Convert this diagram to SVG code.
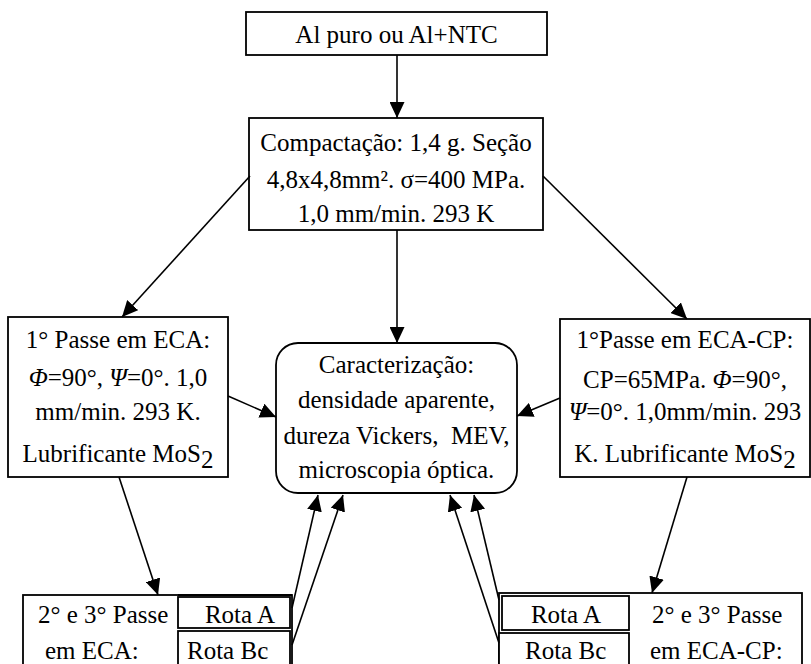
<svg xmlns="http://www.w3.org/2000/svg" width="811" height="664" viewBox="0 0 811 664">
<defs>
<style>
.box{fill:#fff;stroke:#000;stroke-width:1.8}
.t{font-family:"Liberation Serif","Times New Roman",serif;font-size:25px;fill:#000}
.m{text-anchor:middle}
.c line{stroke:#000;stroke-width:1.6;marker-end:url(#ah)}
</style>
<marker id="ah" markerUnits="userSpaceOnUse" markerWidth="16" markerHeight="15" refX="16" refY="7.5" orient="auto" viewBox="0 0 16 15">
<path d="M0,0 L16,7.5 L0,15 z" fill="#000"/>
</marker>
</defs>
<rect width="811" height="664" fill="#fff"/>
<g id="n-start">
<rect class="box" x="246" y="12" width="301" height="43"/>
<text class="t m" x="396.5" y="43">Al puro ou Al+NTC</text>
</g>
<g id="n-compact">
<rect class="box" x="249" y="118" width="294" height="112"/>
<text class="t m" x="396" y="151">Compactação: 1,4 g. Seção</text>
<text class="t m" x="396" y="188">4,8x4,8mm². σ=400 MPa.</text>
<text class="t m" x="396" y="222">1,0 mm/min. 293 K</text>
</g>
<g id="n-eca1">
<rect class="box" x="8" y="317" width="220" height="160"/>
<text class="t m" x="118" y="348">1° Passe em ECA:</text>
<text class="t m" x="118" y="386"><tspan font-style="italic">Φ</tspan>=90°, <tspan font-style="italic">Ψ</tspan>=0°. 1,0</text>
<text class="t m" x="118" y="420">mm/min. 293 K.</text>
<text class="t m" x="118" y="462">Lubrificante MoS<tspan dy="6">2</tspan></text>
</g>
<g id="n-ecacp1">
<rect class="box" x="560" y="319" width="250" height="158"/>
<text class="t m" x="685" y="348">1°Passe em ECA-CP:</text>
<text class="t m" x="685" y="388">CP=65MPa. <tspan font-style="italic">Φ</tspan>=90°,</text>
<text class="t m" x="685" y="420"><tspan font-style="italic">Ψ</tspan>=0°. 1,0mm/min. 293</text>
<text class="t m" x="685" y="462">K. Lubrificante MoS<tspan dy="6">2</tspan></text>
</g>
<g id="n-caract">
<rect class="box" x="276" y="343" width="241" height="150" rx="22" ry="22"/>
<text class="t m" x="396.5" y="373">Caracterização:</text>
<text class="t m" x="396.5" y="408">densidade aparente,</text>
<text class="t m" x="396.5" y="444">dureza Vickers,&#160; MEV,</text>
<text class="t m" x="396.5" y="478">microscopia óptica.</text>
</g>
<g id="n-eca23">
<rect class="box" x="23" y="595" width="269" height="90"/>
<text class="t" x="38" y="623">2° e 3° Passe</text>
<text class="t" x="45" y="659">em ECA:</text>
<rect class="box" x="178" y="597" width="112" height="31"/>
<line x1="178" y1="595" x2="292" y2="595" stroke="#000" stroke-width="1.8"/>
<text class="t m" x="240" y="623">Rota A</text>
<rect class="box" x="178" y="631" width="112" height="60"/>
<text class="t" x="187" y="659">Rota Bc</text>
</g>
<g id="n-ecacp23">
<rect class="box" x="499" y="593" width="303" height="92"/>
<rect class="box" x="502" y="596" width="127" height="34"/>
<text class="t m" x="566" y="623">Rota A</text>
<rect class="box" x="499" y="633" width="130" height="60"/>
<text class="t" x="525" y="659">Rota Bc</text>
<text class="t" x="652" y="623">2° e 3° Passe</text>
<text class="t" x="650" y="659">em ECA-CP:</text>
</g>
<g id="connectors" class="c">
<line x1="397" y1="55" x2="397" y2="118"/>
<line x1="250" y1="176" x2="122" y2="317"/>
<line x1="543" y1="176" x2="687" y2="319"/>
<line x1="397" y1="230" x2="397" y2="343"/>
<line x1="228" y1="396" x2="276" y2="417"/>
<line x1="560" y1="398" x2="517" y2="416"/>
<line x1="119" y1="477" x2="158" y2="595"/>
<line x1="687" y1="477" x2="652" y2="593"/>
<line x1="292" y1="608" x2="318" y2="495"/>
<line x1="292" y1="645" x2="343" y2="495"/>
<line x1="499" y1="600" x2="474" y2="495"/>
<line x1="499" y1="643" x2="450" y2="495"/>
</g>
</svg>
